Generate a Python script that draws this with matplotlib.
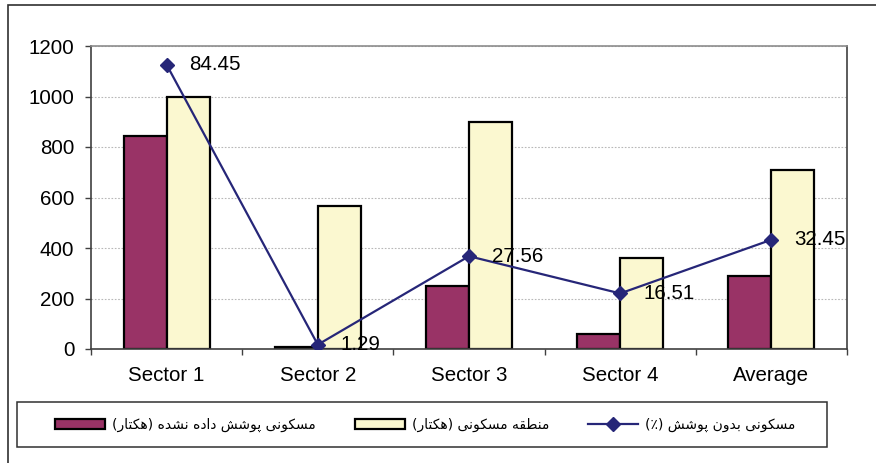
import numpy as np
import matplotlib
matplotlib.use("Agg")
import matplotlib.pyplot as plt
from matplotlib.patches import Patch, Rectangle
from matplotlib.lines import Line2D

# Data
CATEGORIES = ["Sector 1", "Sector 2", "Sector 3", "Sector 4", "Average"]
UNCOVERED_HA = [845, 7, 248, 60, 290]
RESIDENTIAL_HA = [1000, 566, 900, 360, 707]
UNCOVERED_PCT = [84.45, 1.29, 27.56, 16.51, 32.45]
Y_TICKS = [0, 200, 400, 600, 800, 1000, 1200]

LABEL_UNCOVERED = "مسکونی پوشش داده نشده (هکتار)"
LABEL_RESIDENTIAL = "منطقه مسکونی (هکتار)"
LABEL_PCT = "مسکونی بدون پوشش (٪)"

MAROON = "#993366"
PALE_YELLOW = "#FBF8D0"
NAVY = "#262678"

# matplotlib has no Arabic shaping, so pick presentation forms by hand
# (isolated, final, initial, medial)
FORMS = {
    "ا": ("\uFE8D", "\uFE8E", None, None),
    "ب": ("\uFE8F", "\uFE90", "\uFE91", "\uFE92"),
    "پ": ("\uFB56", "\uFB57", "\uFB58", "\uFB59"),
    "ت": ("\uFE95", "\uFE96", "\uFE97", "\uFE98"),
    "د": ("\uFEA9", "\uFEAA", None, None),
    "ر": ("\uFEAD", "\uFEAE", None, None),
    "س": ("\uFEB1", "\uFEB2", "\uFEB3", "\uFEB4"),
    "ش": ("\uFEB5", "\uFEB6", "\uFEB7", "\uFEB8"),
    "ط": ("\uFEC1", "\uFEC2", "\uFEC3", "\uFEC4"),
    "ق": ("\uFED5", "\uFED6", "\uFED7", "\uFED8"),
    "ک": ("\uFB8E", "\uFB8F", "\uFB90", "\uFB91"),
    "م": ("\uFEE1", "\uFEE2", "\uFEE3", "\uFEE4"),
    "ن": ("\uFEE5", "\uFEE6", "\uFEE7", "\uFEE8"),
    "ه": ("\uFEE9", "\uFEEA", "\uFEEB", "\uFEEC"),
    "و": ("\uFEED", "\uFEEE", None, None),
    "ی": ("\uFBFC", "\uFBFD", "\uFBFE", "\uFBFF"),
}


def shape_rtl(text):
    out = []
    for i, ch in enumerate(text):
        if ch not in FORMS:
            out.append(ch)
            continue
        prev = text[i - 1] if i > 0 else ""
        nxt = text[i + 1] if i + 1 < len(text) else ""
        join_prev = prev in FORMS and FORMS[prev][2] is not None
        join_next = nxt in FORMS and FORMS[ch][2] is not None
        iso, fin, ini, med = FORMS[ch]
        if join_prev and join_next:
            out.append(med)
        elif join_prev:
            out.append(fin)
        elif join_next:
            out.append(ini)
        else:
            out.append(iso)
    mirror = {"(": ")", ")": "("}
    return "".join(mirror.get(c, c) for c in reversed(out))


plt.rcParams["font.family"] = ["Liberation Sans", "DejaVu Sans"]

W, H = 876, 463
fig = plt.figure(figsize=(W / 100, H / 100), dpi=100)
ax = fig.add_axes([91 / W, 1 - 349 / H, (847 - 91) / W, (349 - 46) / H])

x = np.arange(len(CATEGORIES))
bw = 0.285
ax.bar(x - bw / 2, UNCOVERED_HA, bw, color=MAROON, edgecolor="black", linewidth=1.6, zorder=2)
ax.bar(x + bw / 2, RESIDENTIAL_HA, bw, color=PALE_YELLOW, edgecolor="black", linewidth=1.6, zorder=2)

ax.set_xlim(-0.5, len(CATEGORIES) - 0.5)
ax.set_ylim(0, 1200)
ax.set_yticks(Y_TICKS)
ax.set_xticks(x)
ax.set_xticklabels(CATEGORIES)
ax.set_xticks(np.arange(-0.5, len(CATEGORIES)), minor=True)
ax.tick_params(axis="x", which="major", length=0, pad=12, labelsize=14.8)
ax.tick_params(axis="x", which="minor", length=4, width=1, color="#404040", direction="out")
ax.tick_params(axis="y", length=4, width=1, color="#404040", pad=8, labelsize=14.8)
ax.yaxis.grid(True, linestyle=(0, (1.5, 1.5)), color="#b8b8b8", linewidth=0.8)
ax.set_axisbelow(True)

ax.spines["left"].set_color("#404040")
ax.spines["bottom"].set_color("#404040")
ax.spines["top"].set_color("#8c8c8c")
ax.spines["right"].set_color("#404040")
for s in ax.spines.values():
    s.set_linewidth(1.2)

# percent series on a hidden secondary scale
ax2 = ax.twinx()
ax2.set_ylim(0, 90)
ax2.axis("off")
ax2.plot(x, UNCOVERED_PCT, color=NAVY, linewidth=1.6, marker="D", markersize=7.5, zorder=3)
for xi, v in zip(x, UNCOVERED_PCT):
    ax2.annotate(f"{v:.2f}", (xi, v), xytext=(23, 0), textcoords="offset pixels",
                 ha="left", va="center", fontsize=14.8)

# outer chart frame (cropped on right/bottom) and legend frame
fig.patches.append(Rectangle((8 / W, -0.1), 1.2, 1 - 5 / H + 0.1, transform=fig.transFigure,
                             fill=False, edgecolor="#303030", linewidth=1.2))
fig.patches.append(Rectangle((17 / W, 1 - 447 / H), (827 - 17) / W, 45 / H, transform=fig.transFigure,
                             fill=False, edgecolor="#303030", linewidth=1.1))

handles = [
    Patch(facecolor=MAROON, edgecolor="black", linewidth=1.6),
    Patch(facecolor=PALE_YELLOW, edgecolor="black", linewidth=1.6),
    Line2D([], [], color=NAVY, linewidth=1.6, marker="D", markersize=7),
]
labels = [shape_rtl(LABEL_UNCOVERED), shape_rtl(LABEL_RESIDENTIAL), shape_rtl(LABEL_PCT)]
fig.legend(handles, labels, loc="center left", bbox_to_anchor=(55 / W, 1 - 425 / H), ncol=3,
           frameon=False, prop={"family": "DejaVu Sans", "size": 10}, handlelength=3.6,
           handleheight=0.72, handletextpad=0.5, columnspacing=2.8, borderpad=0, borderaxespad=0)

fig.savefig("out.png", dpi=100)
